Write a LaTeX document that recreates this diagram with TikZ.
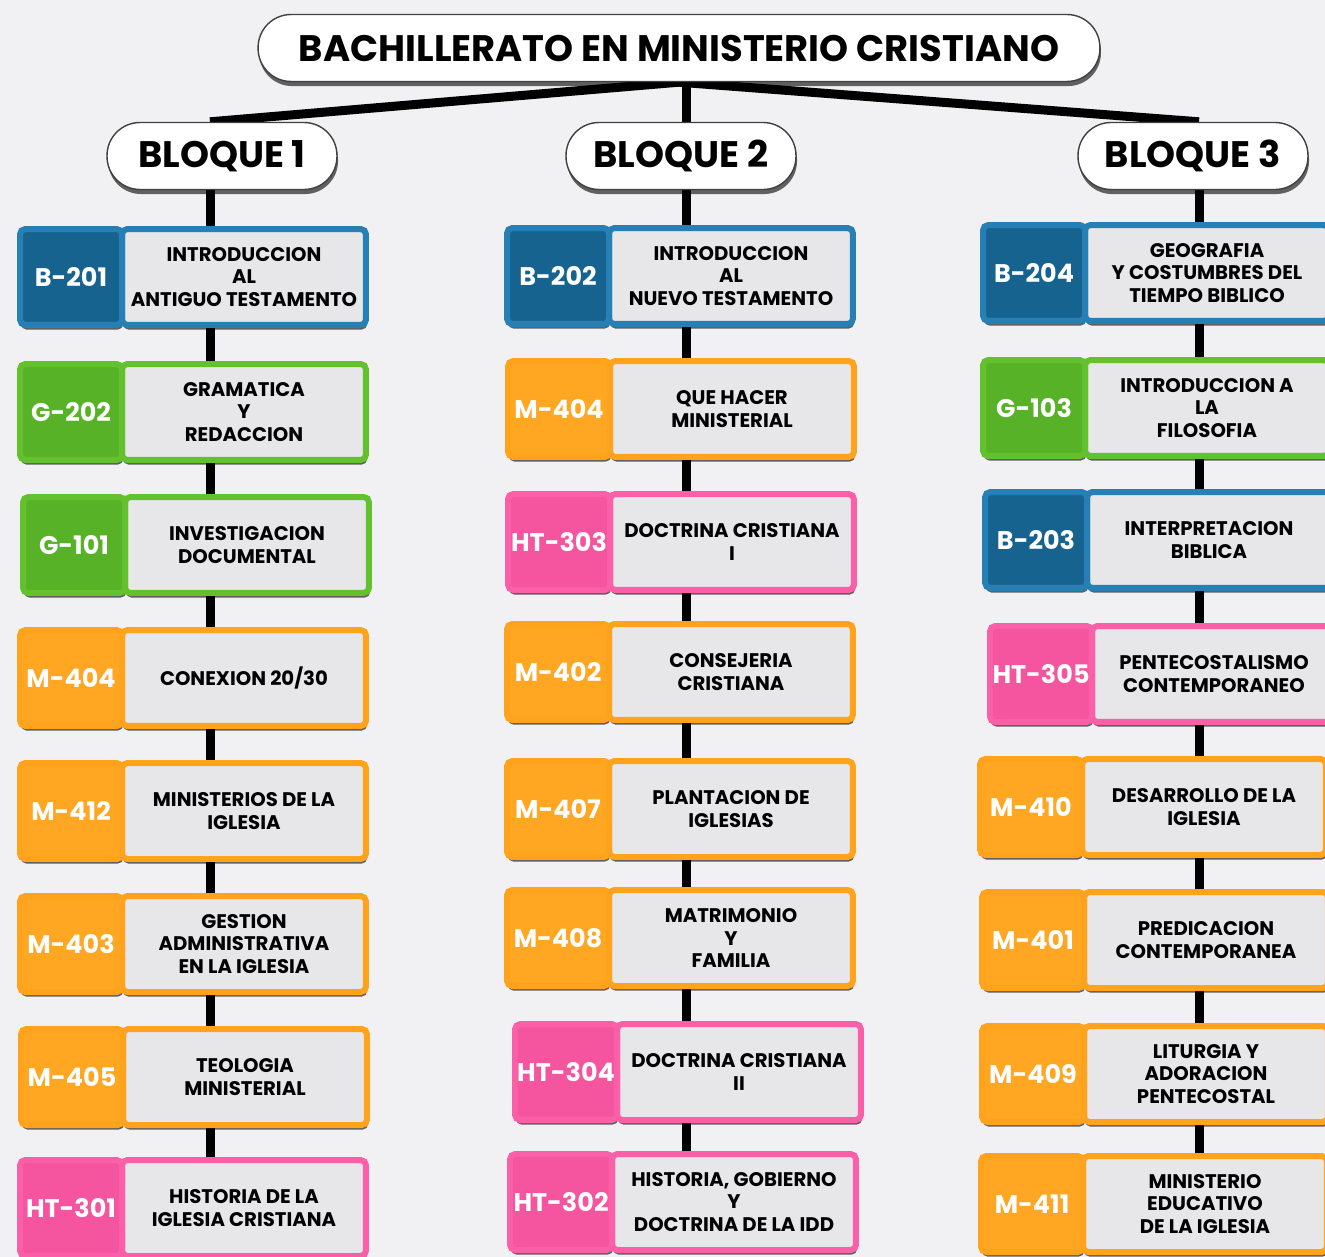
\documentclass[tikz,border=0pt]{standalone}
\usepackage{fontspec}
\setmainfont{Poppins}
\usetikzlibrary{positioning,shadows}
\definecolor{fondo}{HTML}{F1F0F3}
\definecolor{gris}{HTML}{E7E7EA}
\definecolor{azul}{HTML}{2680B5}
\definecolor{azulk}{HTML}{16638F}
\definecolor{verde}{HTML}{64C12E}
\definecolor{verdek}{HTML}{58B227}
\definecolor{naranja}{HTML}{FFA21C}
\definecolor{naranjak}{HTML}{FFA623}
\definecolor{rosa}{HTML}{FA5FA7}
\definecolor{rosak}{HTML}{F5549E}
\pgfdeclarelayer{back}
\pgfdeclarelayer{lines}
\pgfsetlayers{back,lines,main}

\begin{document}
\begin{tikzpicture}[x=0.02cm, y=-0.02cm, node distance=0pt,
    sombra/.style={drop shadow={shadow xshift=0.6pt, shadow yshift=-2.6pt, opacity=0.6, fill=black}},
    titulo/.style={draw=black!75, line width=0.8pt, fill=white, rounded corners=0.66cm,
        minimum width=16.84cm, minimum height=1.34cm, font=\fontsize{21}{24}\selectfont\bfseries, sombra},
    bloque/.style={titulo, minimum width=4.6cm},
    materia/.style={draw=#1, fill=gris, line width=0.12cm, rounded corners=3pt, outer sep=0pt,
        minimum width=4.88cm, minimum height=1.92cm, inner sep=1pt, align=center,
        font=\fontsize{11.2}{12.6}\selectfont\bfseries, sombra},
    clave/.style={draw=#1, fill=#1k, line width=0.12cm, rounded corners=3pt, outer sep=0pt,
        minimum width=2.04cm, minimum height=1.92cm, inner sep=0pt, text=white,
        font=\fontsize{14.5}{16}\selectfont\bfseries, sombra},
    spine/.style={line width=0.18cm, black}]

    \begin{pgfonlayer}{back}
        \fill[fondo] (0,0) rectangle (1325,1257);
    \end{pgfonlayer}
    \useasboundingbox (0,0) rectangle (1325,1257);

    % title and blocks
    \node[titulo] (tit)  at (679,48)   {BACHILLERATO EN MINISTERIO CRISTIANO};
    \node[bloque] (blq1) at (222,156)  {BLOQUE 1};
    \node[bloque] (blq2) at (681,156)  {BLOQUE 2};
    \node[bloque] (blq3) at (1193,156) {BLOQUE 3};
    \coordinate (eje1) at (210,0);
    \coordinate (eje2) at (686,0);
    \coordinate (eje3) at (1199,0);

    % bloque 1
    \node[materia=azul] (mat11) at (244,277) {INTRODUCCION\\AL\\ANTIGUO TESTAMENTO};
    \node[clave=azul, left=of mat11] (cla11) {B-201};
    \node[materia=verde] (mat12) at (244,412) {GRAMATICA\\Y\\REDACCION};
    \node[clave=verde, left=of mat12] (cla12) {G-202};
    \node[materia=verde] (mat13) at (247,545) {INVESTIGACION\\DOCUMENTAL};
    \node[clave=verde, left=of mat13] (cla13) {G-101};
    \node[materia=naranja] (mat14) at (244,678) {CONEXION 20/30};
    \node[clave=naranja, left=of mat14] (cla14) {M-404};
    \node[materia=naranja] (mat15) at (244,811) {MINISTERIOS DE LA\\IGLESIA};
    \node[clave=naranja, left=of mat15] (cla15) {M-412};
    \node[materia=naranja] (mat16) at (244,944) {GESTION\\ADMINISTRATIVA\\EN LA IGLESIA};
    \node[clave=naranja, left=of mat16] (cla16) {M-403};
    \node[materia=naranja] (mat17) at (245,1077) {TEOLOGIA\\MINISTERIAL};
    \node[clave=naranja, left=of mat17] (cla17) {M-405};
    \node[materia=rosa] (mat18) at (244,1208) {HISTORIA DE LA\\IGLESIA CRISTIANA};
    \node[clave=rosa, left=of mat18] (cla18) {HT-301};

    % bloque 2
    \node[materia=azul] (mat21) at (731,276) {INTRODUCCION\\AL\\NUEVO TESTAMENTO};
    \node[clave=azul, left=of mat21] (cla21) {B-202};
    \node[materia=naranja] (mat22) at (732,409) {QUE HACER\\MINISTERIAL};
    \node[clave=naranja, left=of mat22] (cla22) {M-404};
    \node[materia=rosa] (mat23) at (732,542) {DOCTRINA CRISTIANA\\I};
    \node[clave=rosa, left=of mat23] (cla23) {HT-303};
    \node[materia=naranja] (mat24) at (731,672) {CONSEJERIA\\CRISTIANA};
    \node[clave=naranja, left=of mat24] (cla24) {M-402};
    \node[materia=naranja] (mat25) at (731,809) {PLANTACION DE\\IGLESIAS};
    \node[clave=naranja, left=of mat25] (cla25) {M-407};
    \node[materia=naranja] (mat26) at (731,938) {MATRIMONIO\\Y\\FAMILIA};
    \node[clave=naranja, left=of mat26] (cla26) {M-408};
    \node[materia=rosa] (mat27) at (739,1072) {DOCTRINA CRISTIANA\\II};
    \node[clave=rosa, left=of mat27] (cla27) {HT-304};
    \node[materia=rosa] (mat28) at (734,1202) {HISTORIA, GOBIERNO\\Y\\DOCTRINA DE LA IDD};
    \node[clave=rosa, left=of mat28] (cla28) {HT-302};

    % bloque 3
    \node[materia=azul] (mat31) at (1207,273) {GEOGRAFIA\\Y COSTUMBRES DEL\\TIEMPO BIBLICO};
    \node[clave=azul, left=of mat31] (cla31) {B-204};
    \node[materia=verde] (mat32) at (1207,408) {INTRODUCCION A\\LA\\FILOSOFIA};
    \node[clave=verde, left=of mat32] (cla32) {G-103};
    \node[materia=azul] (mat33) at (1209,540) {INTERPRETACION\\BIBLICA};
    \node[clave=azul, left=of mat33] (cla33) {B-203};
    \node[materia=rosa] (mat34) at (1214,674) {PENTECOSTALISMO\\CONTEMPORANEO};
    \node[clave=rosa, left=of mat34] (cla34) {HT-305};
    \node[materia=naranja] (mat35) at (1204,807) {DESARROLLO DE LA\\IGLESIA};
    \node[clave=naranja, left=of mat35] (cla35) {M-410};
    \node[materia=naranja] (mat36) at (1206,940) {PREDICACION\\CONTEMPORANEA};
    \node[clave=naranja, left=of mat36] (cla36) {M-401};
    \node[materia=naranja] (mat37) at (1206,1074) {LITURGIA Y\\ADORACION\\PENTECOSTAL};
    \node[clave=naranja, left=of mat37] (cla37) {M-409};
    \node[materia=naranja] (mat38) at (1205,1204) {MINISTERIO\\EDUCATIVO\\DE LA IGLESIA};
    \node[clave=naranja, left=of mat38] (cla38) {M-411};

    % connectors
    \begin{pgfonlayer}{lines}
        \draw[spine] (tit.south) -- (eje1 |- blq1.north);
        \draw[spine] (tit.south) -- (eje3 |- blq3.north);
        \draw[spine] (eje2 |- tit.south) -- (eje2 |- blq2.north);
        \draw[spine] (eje1 |- blq1.south) -- (eje1 |- mat18.south);
        \draw[spine] (eje2 |- blq2.south) -- (eje2 |- mat28.south);
        \draw[spine] (eje3 |- blq3.south) -- (eje3 |- mat38.south);
    \end{pgfonlayer}
\end{tikzpicture}
\end{document}
